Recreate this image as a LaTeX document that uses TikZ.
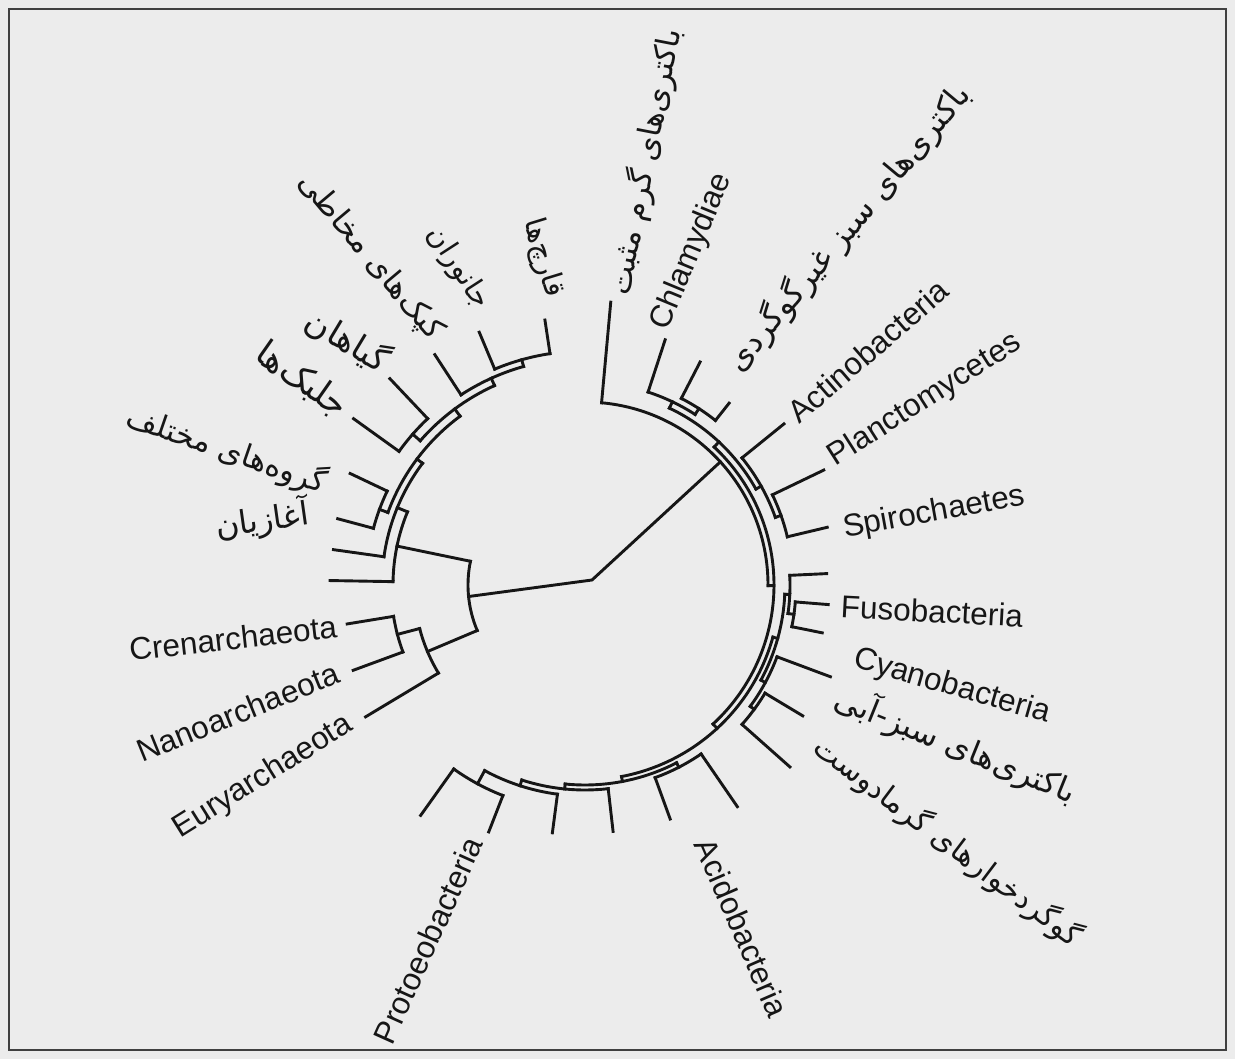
\documentclass[tikz,border=0pt]{standalone}
\usepackage{fontspec}
\usepackage{graphicx}
\setmainfont{Liberation Sans}
\newfontfamily\fafont[Script=Arabic]{DejaVu Sans}
\TeXXeTstate=1
\usetikzlibrary{calc}

% polar helpers around the tree centre (C)
\newcommand\clade[4]{% name, radius, start angle, end angle
  \coordinate (#1) at ($(C)+(#3:#2)$);
  \draw[br] (#1) arc[start angle=#3, end angle=#4, radius=#2];}
\newcommand\stem[4]{% name, angle, inner radius, outer radius
  \coordinate (#1-i) at ($(C)+(#2:#3)$);
  \coordinate (#1-o) at ($(C)+(#2:#4)$);
  \draw[br] (#1-i) -- (#1-o);}
\newcommand\leaf[4]{% name, angle, base radius, tip radius
  \coordinate (#1-b) at ($(C)+(#2:#3)$);
  \coordinate (#1) at ($(C)+(#2:#4)$);
  \draw[br] (#1-b) -- (#1);}

\definecolor{paper}{RGB}{236,236,236}
\definecolor{ink}{RGB}{22,22,22}

\begin{document}
\begin{tikzpicture}[x=1pt,y=1pt,
  br/.style={line width=2.9pt, draw=ink, line cap=rect, line join=miter},
  en/.style={font=\fontsize{31.5}{36}\selectfont, text=ink, inner sep=0pt},
  fa/.style={text=ink, inner sep=0pt}]

\fill[paper] (0,0) rectangle (1235,-1059);
\useasboundingbox (0,0) rectangle (1235,-1059);
\draw[line width=2pt, draw=black!75] (9,-9) rectangle (1226,-1050);

\coordinate (C) at (585,-585);

% ---- root edge ----
\coordinate (rootL) at ($(C)+(185.65:117)$);
\coordinate (rootM) at (592,-580);
\coordinate (rootB) at ($(C)+(42.3:183)$);
\draw[br] (rootL) -- (rootM) -- (rootB);

% ---- archaea + eukarya ----
\clade{ae}{117}{168.3}{202.9}
\stem{aeA}{202.9}{117}{171}
\clade{arch}{171}{194.75}{211}
\leaf{eury}{211}{171}{256}
\stem{archCN}{194.75}{171}{194}
\clade{cn}{194}{189.3}{200.2}
\leaf{cren}{189.3}{194}{241}
\leaf{nano}{200.2}{194}{247}

\stem{aeE}{168.3}{117}{192}
\clade{euY}{192}{157.6}{179}
\leaf{euA}{179}{192}{255}
\stem{euYX}{157.6}{192}{203}
\clade{euX}{203}{143.15}{172}
\leaf{euB}{172}{203}{254}
\stem{euXN}{143.15}{203}{210}
\clade{euN4}{210}{126.5}{159.8}
\stem{euPM}{159.8}{210}{219}
\clade{pm}{219}{154.6}{165}
\leaf{prot}{165}{219}{256}
\leaf{misc}{154.6}{219}{260}
\stem{euN3}{126.5}{210}{219}
\clade{n3}{219}{114.4}{138.8}
\stem{euAP}{138.8}{219}{229}
\clade{ap}{229}{133.4}{144.3}
\leaf{alg}{144.3}{229}{285}
\leaf{pla}{133.4}{229}{284}
\stem{euN2}{114.4}{219}{227}
\clade{n2}{227}{105.7}{123.1}
\leaf{slm}{123.1}{227}{275}
\stem{euAF}{105.7}{227}{234}
\clade{af}{234}{98.6}{112.7}
\leaf{ani}{112.7}{234}{274}
\leaf{fun}{98.6}{234}{268}

% ---- bacteria ----
\clade{top}{183}{-0.2}{84.8}
\leaf{gpos}{84.8}{183}{284}
\stem{topV4}{-0.2}{183}{189}
\clade{v4}{189}{-47.35}{46.9}
\stem{v4B3}{46.9}{189}{196}
\clade{b3}{196}{29.3}{64.5}
\stem{b3CH}{64.5}{196}{203}
\clade{ch}{203}{57.15}{71.9}
\leaf{chl}{71.9}{203}{258}
\stem{chG}{57.15}{203}{210}
\clade{g}{210}{51.6}{62.7}
\leaf{gns1}{62.7}{210}{251}
\leaf{gns2}{51.6}{210}{232}
\stem{b3AP}{29.3}{196}{202}
\clade{ap2}{202}{19.55}{39}
\leaf{act}{39}{202}{256}
\stem{apPS}{19.55}{202}{208}
\clade{ps}{208}{13.4}{25.7}
\leaf{plc}{25.7}{208}{265}
\leaf{spi}{13.4}{208}{249}
\stem{v4V3}{-47.35}{189}{195}
\clade{v3}{195}{-79.2}{-15.5}
\stem{v3V2}{-15.5}{195}{200}
\clade{v2}{200}{-28.4}{-2.65}
\stem{v2F}{-2.65}{200}{205}
\clade{fu}{205}{-8}{2.7}
\leaf{f1}{2.7}{205}{242}
\stem{fuF}{-8}{205}{211}
\clade{f23}{211}{-11.4}{-4.6}
\leaf{f2}{-4.6}{211}{244}
\leaf{f3}{-11.4}{211}{242}
\stem{v2V1}{-28.4}{200}{205}
\clade{v1}{205}{-36.3}{-20.5}
\leaf{cya}{-20.5}{205}{262}
\stem{v1T}{-36.3}{205}{210}
\clade{th}{210}{-41.6}{-31}
\leaf{t1}{-31}{210}{254}
\leaf{t2}{-41.6}{210}{274}
\stem{v3R2}{-79.2}{195}{200}
\clade{r2}{200}{-95.7}{-62.75}
\stem{r2S}{-62.75}{200}{205}
\clade{sa}{205}{-70}{-55.5}
\leaf{s1}{-55.5}{205}{269}
\leaf{s2}{-70}{205}{249}
\stem{r2R}{-95.7}{200}{205}
\clade{rr}{205}{-107.95}{-83.5}
\leaf{p4}{-83.5}{205}{248}
\stem{rQ}{-107.95}{205}{211}
\clade{qq}{211}{-118.4}{-97.5}
\leaf{p3}{-97.5}{211}{250}
\stem{qP}{-118.4}{211}{226}
\clade{p12}{226}{-125.5}{-111.3}
\leaf{p1}{-125.5}{226}{283}
\leaf{p2}{-111.3}{226}{265}

% ---- labels ----
\node[en, rotate=67.5] (lChl) at (692,-252) {Chlamydiae};
\node[en, rotate=40.8] (lAct) at (868,-351) {Actinobacteria};
\node[en, rotate=32.5] (lPlc) at (925,-400) {Planctomycetes};
\node[en, rotate=10.3] (lSpi) at (934,-513) {Spirochaetes};
\node[en, rotate=-3]   (lFus) at (932,-611) {Fusobacteria};
\node[en, rotate=-16]  (lCya) at (952,-687) {Cyanobacteria};
\node[en, rotate=-66.5] (lAci) at (742,-928) {Acidobacteria};
\node[en, rotate=65.8] (lPro) at (428,-940) {Protoeobacteria};
\node[en, rotate=6.4]  (lCre) at (233,-638) {Crenarchaeota};
\node[en, rotate=22]   (lNan) at (238,-712) {Nanoarchaeota};
\node[en, rotate=32]   (lEur) at (263,-777) {Euryarchaeota};

\node[fa, rotate=79]   (lGpos) at (645,-162) {\resizebox{270pt}{!}{\fafont\beginR باکتری‌های گرم مثبت\endR}};
\node[fa, rotate=50.2] (lGns)  at (848,-228) {\resizebox{362pt}{!}{\fafont\beginR باکتری‌های سبز غیرگوگردی\endR}};
\node[fa, rotate=-22]  (lBlue) at (956,-745) {\resizebox{257pt}{!}{\fafont\beginR باکتری‌های سبز-آبی\endR}};
\node[fa, rotate=-37]  (lSulf) at (948,-842) {\resizebox{326pt}{!}{\fafont\beginR گوگردخوارهای گرمادوست\endR}};
\node[fa, rotate=8]    (lProt) at (262,-520) {\resizebox{94pt}{!}{\fafont\beginR آغازیان\endR}};
\node[fa, rotate=-19]  (lMisc) at (227,-450) {\resizebox{209pt}{!}{\fafont\beginR گروه‌های مختلف\endR}};
\node[fa, rotate=-35]  (lAlg)  at (302,-380) {\resizebox{104pt}{!}{\fafont\beginR جلبک‌ها\endR}};
\node[fa, rotate=-31]  (lPla)  at (348,-340) {\resizebox{90pt}{!}{\fafont\beginR گیاهان\endR}};
\node[fa, rotate=-50]  (lSlm)  at (370,-257) {\resizebox{208pt}{!}{\fafont\beginR کپک‌های مخاطی\endR}};
\node[fa, rotate=-57]  (lAni)  at (458,-268) {\resizebox{92pt}{!}{\fafont\beginR جانوران\endR}};
\node[fa, rotate=-73]  (lFun)  at (543,-258) {\resizebox{80pt}{!}{\fafont\beginR قارچ‌ها\endR}};
\end{tikzpicture}
\end{document}
